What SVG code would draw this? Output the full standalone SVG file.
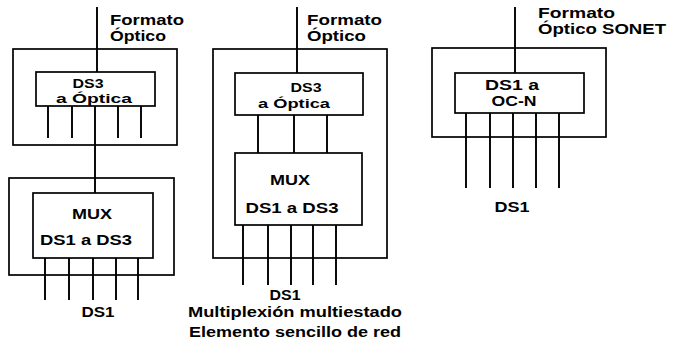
<svg xmlns="http://www.w3.org/2000/svg" width="675" height="342" viewBox="0 0 675 342">
<style>
.box{fill:none;stroke:#000;stroke-width:1.7}
.ln{fill:none;stroke:#000;stroke-width:1.9}
text{font-family:"Liberation Sans",Arial,sans-serif;font-weight:bold;font-size:14px;fill:#000}
.c{text-anchor:middle}
.s{font-size:13px}
</style>
<rect width="675" height="342" fill="#fff"/>
<g id="connectors">
<path class="ln" d="M97 7V72 M95 106V193 M297 7V73 M515 7V73"/>
<path class="ln" d="M48 106V138 M72 106V138 M118 106V138 M141 106V138"/>
<path class="ln" d="M45 258V300 M69 258V300 M93 258V300 M116 258V300 M138 258V300"/>
<path class="ln" d="M258 115V153 M294 115V153 M327 115V153"/>
<path class="ln" d="M243 225V285 M268 225V285 M291 225V285 M313 225V285 M336 225V285"/>
<path class="ln" d="M466 113V188 M490 113V188 M513 113V188 M536 113V188 M559 113V188"/>
</g>
<g id="label-left-top">
<text x="110" y="25" textLength="74" lengthAdjust="spacingAndGlyphs">Formato</text>
<text x="110" y="41" textLength="56" lengthAdjust="spacingAndGlyphs">Óptico</text>
</g>
<g id="left-ds3-element">
<rect class="box" x="13" y="49" width="164" height="96"/>
</g>
<g id="left-ds3">
<rect class="box" x="36" y="72" width="119" height="34"/>
<text class="c s" x="88" y="88" textLength="31" lengthAdjust="spacingAndGlyphs">DS3</text>
<text class="c s" x="94" y="103" textLength="76" lengthAdjust="spacingAndGlyphs">a Óptica</text>
</g>
<g id="left-mux-element">
<rect class="box" x="9" y="178" width="165" height="97"/>
</g>
<g id="left-mux">
<rect class="box" x="33" y="193" width="120" height="65"/>
<text class="c" x="92" y="219" textLength="40" lengthAdjust="spacingAndGlyphs">MUX</text>
<text class="c" x="86" y="245" textLength="92" lengthAdjust="spacingAndGlyphs">DS1 a DS3</text>
</g>
<g id="label-left-ds1">
<text class="c" x="98" y="317" textLength="33" lengthAdjust="spacingAndGlyphs">DS1</text>
</g>
<g id="label-mid-top">
<text x="307" y="25" textLength="75" lengthAdjust="spacingAndGlyphs">Formato</text>
<text x="307" y="41" textLength="59" lengthAdjust="spacingAndGlyphs">Óptico</text>
</g>
<g id="mid-element">
<rect class="box" x="213" y="49" width="174" height="209"/>
</g>
<g id="mid-ds3">
<rect class="box" x="235" y="73" width="128" height="42"/>
<text class="c s" x="306" y="92" textLength="31" lengthAdjust="spacingAndGlyphs">DS3</text>
<text class="c s" x="294" y="108" textLength="72" lengthAdjust="spacingAndGlyphs">a Óptica</text>
</g>
<g id="mid-mux">
<rect class="box" x="235" y="153" width="127" height="72"/>
<text class="c" x="290" y="185" textLength="40" lengthAdjust="spacingAndGlyphs">MUX</text>
<text class="c" x="292" y="213" textLength="93" lengthAdjust="spacingAndGlyphs">DS1 a DS3</text>
</g>
<g id="label-mid-bottom">
<text class="c" x="285" y="300" textLength="31" lengthAdjust="spacingAndGlyphs">DS1</text>
<text class="c" x="295" y="317" textLength="214" lengthAdjust="spacingAndGlyphs">Multiplexión multiestado</text>
<text class="c" x="295" y="337" textLength="212" lengthAdjust="spacingAndGlyphs">Elemento sencillo de red</text>
</g>
<g id="label-right-top">
<text x="538" y="18" textLength="77" lengthAdjust="spacingAndGlyphs">Formato</text>
<text x="538" y="34" textLength="128" lengthAdjust="spacingAndGlyphs">Óptico SONET</text>
</g>
<g id="right-element">
<rect class="box" x="432" y="48" width="174" height="89"/>
</g>
<g id="right-ds1-oc">
<rect class="box" x="455" y="73" width="129" height="40"/>
<text class="c" x="512" y="90" textLength="54" lengthAdjust="spacingAndGlyphs">DS1 a</text>
<text class="c" x="514" y="106" textLength="45" lengthAdjust="spacingAndGlyphs">OC-N</text>
</g>
<g id="label-right-ds1">
<text class="c" x="512" y="212" textLength="35" lengthAdjust="spacingAndGlyphs">DS1</text>
</g>
</svg>
